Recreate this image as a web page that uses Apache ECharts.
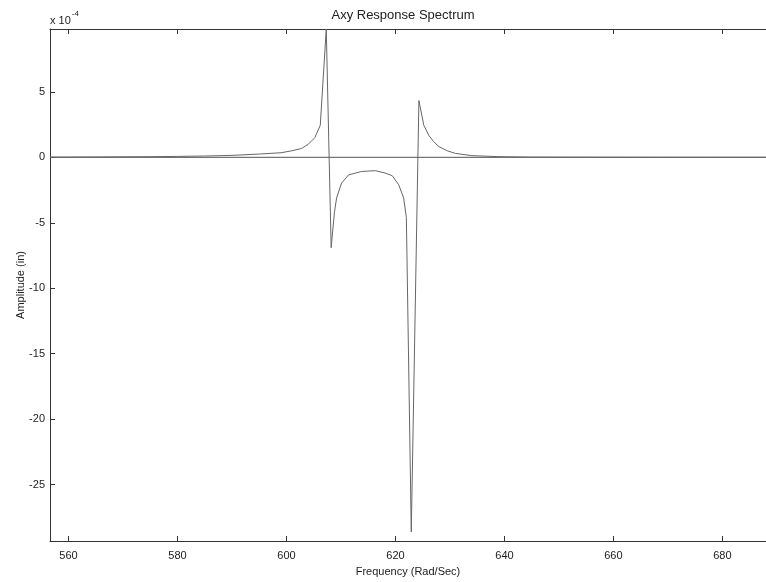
<!DOCTYPE html>
<html>
<head>
<meta charset="utf-8">
<title>Axy Response Spectrum</title>
<script src="https://cdn.jsdelivr.net/npm/echarts@6.0.0/dist/echarts.min.js"></script>
<style>
    * {
        margin: 0;
        padding: 0;
    }
    body {
        background: #FFFFFF;
    }
    #main {
        width: 766px;
        height: 582px;
    }
</style>
</head>
<body>
<div id="main"></div>
<script>
    // frequency (rad/sec) and amplitude (x 1e-4 in)
    var freq = [556.6, 565, 575, 580, 585, 590, 595, 599, 601, 602.8, 604, 605.2, 606.2,
                607.3, 608.2, 608.8, 609.2, 610.1, 611.4, 613.8, 616.3, 618.1, 619.4, 620.6,
                621.5, 622.0, 622.9, 624.3, 625.2, 626.1, 627.0, 628.0, 629.5, 631,
                634, 639, 645, 660, 688];
    var amplitude = [0.02, 0.03, 0.05, 0.07, 0.1, 0.15, 0.25, 0.35, 0.5, 0.68, 1.0, 1.5, 2.45,
                     9.8, -6.9, -4.2, -3.1, -1.97, -1.34, -1.08, -1.02, -1.2, -1.4, -2.1,
                     -3.1, -4.6, -28.6, 4.34, 2.45, 1.69, 1.2, 0.81, 0.5, 0.3,
                     0.13, 0.05, 0.02, 0.01, 0.005];
    var zeroFreq = [556.6, 688];
    var zeroLine = [0, 0];

    var xTicks = [560, 580, 600, 620, 640, 660, 680];
    var yTicks = [-25, -20, -15, -10, -5, 0, 5];

    var myChart = echarts.init(document.getElementById('main'));

    var axisColor = '#333';
    var font = 'Liberation Sans, Arial, sans-serif';

    var curve = [];
    for (var i = 0; i < freq.length; i++) {
        curve.push([freq[i], amplitude[i]]);
    }
    var zero = [];
    for (var j = 0; j < zeroFreq.length; j++) {
        zero.push([zeroFreq[j], zeroLine[j]]);
    }

    var option = {
        backgroundColor: '#FFFFFF',
        animation: false,
        title: {
            text: 'Axy Response Spectrum',
            left: 398,
            top: 4,
            textAlign: 'center',
            textStyle: {
                fontFamily: font,
                fontSize: 13,
                fontWeight: 'normal',
                color: '#222'
            }
        },
        graphic: [{
            type: 'text',
            left: 50,
            top: 10,
            style: {
                text: '{a|x 10}{b|-4}',
                rich: {
                    a: { fontFamily: font, fontSize: 11, fill: '#222', verticalAlign: 'bottom' },
                    b: { fontFamily: font, fontSize: 8, fill: '#222', verticalAlign: 'top', padding: [0, 0, 8, 1] }
                }
            }
        }],
        grid: {
            left: 50,
            top: 29,
            right: 0,
            bottom: 40
        },
        xAxis: [{
            type: 'value',
            min: 556.6,
            max: 688,
            position: 'bottom',
            name: 'Frequency (Rad/Sec)',
            nameLocation: 'middle',
            nameGap: 25,
            nameTextStyle: { fontFamily: font, fontSize: 11, color: '#222' },
            axisLine: { show: true, onZero: false, lineStyle: { color: axisColor, width: 1 } },
            axisTick: { show: true, inside: true, length: 5, customValues: xTicks, lineStyle: { color: axisColor } },
            axisLabel: { customValues: xTicks, fontFamily: font, fontSize: 11, color: '#222', margin: 9 },
            splitLine: { show: false }
        }, {
            type: 'value',
            min: 556.6,
            max: 688,
            position: 'top',
            axisLine: { show: true, onZero: false, lineStyle: { color: axisColor, width: 1 } },
            axisTick: { show: true, inside: true, length: 5, customValues: xTicks, lineStyle: { color: axisColor } },
            axisLabel: { show: false },
            splitLine: { show: false }
        }],
        yAxis: {
            type: 'value',
            min: -29.3,
            max: 9.8,
            name: 'Amplitude (in)',
            nameLocation: 'middle',
            nameGap: 24,
            nameMoveOverlap: false,
            nameTextStyle: { fontFamily: font, fontSize: 11, color: '#222' },
            axisLine: { show: true, onZero: false, lineStyle: { color: axisColor, width: 1 } },
            axisTick: { show: true, inside: true, length: 5, customValues: yTicks, lineStyle: { color: axisColor } },
            axisLabel: { customValues: yTicks, fontFamily: font, fontSize: 11, color: '#222', margin: 5 },
            splitLine: { show: false }
        },
        series: [{
            type: 'line',
            data: zero,
            showSymbol: false,
            lineStyle: { color: '#555', width: 1 },
            z: 2
        }, {
            type: 'line',
            data: curve,
            showSymbol: false,
            lineStyle: { color: '#666', width: 1 },
            z: 3
        }]
    };

    myChart.setOption(option);
</script>
</body>
</html>
